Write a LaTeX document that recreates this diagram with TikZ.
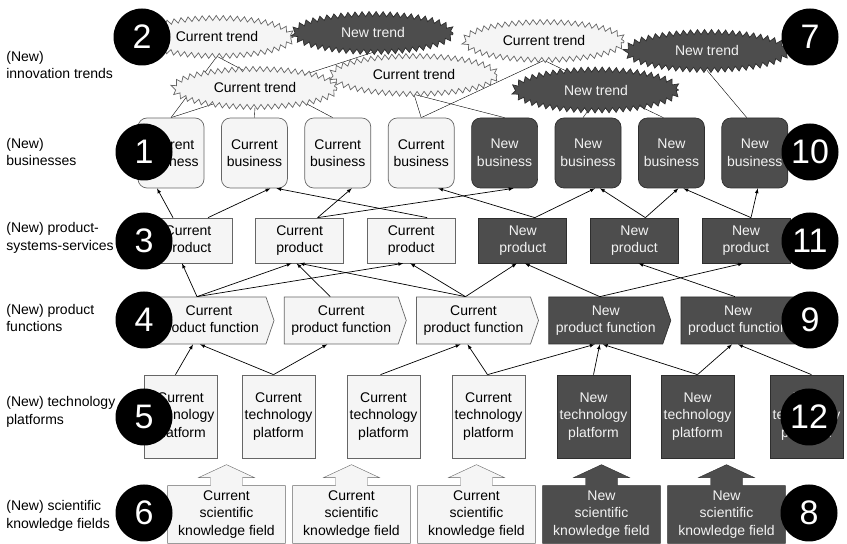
\documentclass[tikz,border=0pt]{standalone}
\usepackage{fontspec}
\setmainfont{Liberation Sans}
\usetikzlibrary{shapes.geometric,shapes.symbols,decorations.pathmorphing,backgrounds}

\definecolor{curfill}{HTML}{F5F5F5}
\definecolor{curline}{HTML}{666666}
\definecolor{newfill}{HTML}{4D4D4D}
\definecolor{newline}{HTML}{2E2E2E}
\definecolor{newtext}{HTML}{F2F2F2}

\tikzset{
	cur/.style={draw=curline, fill=curfill, text=black},
	new/.style={draw=newline, fill=newfill, text=newtext},
	trend/.style={ellipse, minimum width=160pt, minimum height=38pt, inner sep=0pt,
		decorate, decoration={zigzag, segment length=7pt, amplitude=2.5pt}},
	biz/.style={rectangle, rounded corners=9pt, minimum width=66pt, minimum height=70pt, align=center, inner sep=1pt},
	prod/.style={rectangle, minimum width=88pt, minimum height=45pt, align=center, inner sep=1pt},
	func/.style={signal, signal to=east, signal pointer angle=142, minimum width=122pt, minimum height=47pt, align=center, inner sep=1pt},
	plat/.style={rectangle, minimum width=73pt, minimum height=83pt, align=center, inner sep=1pt},
	field/.style={rectangle, minimum width=117pt, minimum height=57pt, align=center, inner sep=1pt},
	rowlabel/.style={anchor=west, align=left, inner sep=0pt},
	numdot/.style={circle, fill=black, text=white, minimum size=57pt, inner sep=0pt, font=\fontsize{34}{34}\selectfont},
	feed/.style={->},
}

\begin{document}
\begin{tikzpicture}[x=1pt, y=1pt, >=latex, line width=0.7pt, font=\fontsize{14}{17.5}\selectfont]

	\useasboundingbox (0,0) rectangle (847,544);

	% === ROW LABELS === (((
	\node [rowlabel] (lab1) at (6,479) {(New)\\innovation trends};
	\node [rowlabel] (lab2) at (6,392) {(New)\\businesses};
	\node [rowlabel] (lab3) at (6,306) {(New) product-\\systems-services};
	\node [rowlabel] (lab4) at (6,226) {(New) product\\functions};
	\node [rowlabel] (lab5) at (6,132) {(New) technology\\platforms};
	\node [rowlabel] (lab6) at (6,28) {(New) scientific\\knowledge fields};
	% )))

	% === BUSINESSES === (((
	\foreach \i in {1,...,4}
		\node [biz,cur] (biz\i) at ({171+83.4*(\i-1)},391) {Current\\business};
	\foreach \i in {5,...,8}
		\node [biz,new] (biz\i) at ({171+83.4*(\i-1)},391) {New\\business};
	% )))

	% === PRODUCTS === (((
	\foreach \i in {1,...,3}
		\node [prod,cur] (prod\i) at ({188+111.6*(\i-1)},303.5) {Current\\product};
	\foreach \i in {4,...,6}
		\node [prod,new] (prod\i) at ({188+111.6*(\i-1)},303.5) {New\\product};
	% )))

	% === FUNCTIONS === (((
	\foreach \i in {1,...,3}
		\node [func,cur] (fn\i) at ({209+132.25*(\i-1)},223.5) {Current\\product function};
	\foreach \i in {4,5}
		\node [func,new] (fn\i) at ({209+132.25*(\i-1)},223.5) {New\\product function};
	% )))

	% === PLATFORMS === (((
	\foreach \i/\x in {1/180.5,2/278.5,3/383.5,4/488.5}
		\node [plat,cur] (plat\i) at (\x,127.5) {Current\\technology\\platform};
	\foreach \i/\x in {5/593.5,6/697.5,7/806.5}
		\node [plat,new] (plat\i) at (\x,127.5) {New\\technology\\platform};
	% )))

	% === KNOWLEDGE FIELDS === (((
	\foreach \i in {1,...,3}
		\node [field,text=black] (kf\i) at ({226.5+125*(\i-1)},29.5) {Current\\scientific\\knowledge field};
	\foreach \i in {4,5}
		\node [field,text=newtext] (kf\i) at ({226.5+125*(\i-1)},29.5) {New\\scientific\\knowledge field};
	\begin{scope}[on background layer]
		\foreach \i/\look in {1/cur,2/cur,3/cur,4/new,5/new}
			\draw [\look] (kf\i.south west) -- (kf\i.north west) -- ([xshift=-16pt]kf\i.north)
			-- ++(0,8) -- ++(-12,0) -- ([yshift=21pt]kf\i.north) -- ([shift={(28pt,8pt)}]kf\i.north)
			-- ++(-12,0) -- ++(0,-8) -- (kf\i.north east) -- (kf\i.south east) -- cycle;
	\end{scope}
	% )))

	% === TRENDS === (((
	\node [trend,cur,minimum width=152pt] (trend1) at (217,507) {Current trend};
	\node [trend,new] (trend2) at (373,511) {New trend};
	\node [trend,cur,minimum width=164pt] (trend3) at (255,456) {Current trend};
	\node [trend,cur,minimum width=166pt] (trend4) at (414,469) {Current trend};
	\node [trend,cur] (trend5) at (544,503) {Current trend};
	\node [trend,new,minimum width=163pt] (trend6) at (707,493) {New trend};
	\node [trend,new,minimum width=165pt,minimum height=41pt] (trend7) at (596,454) {New trend};
	\begin{scope}[on background layer]
		\foreach \a/\sa/\b/\sb in {1/0/1/0, 1/0/3/-5, 2/0/1/0, 3/0/2/0, 4/0/4/0, 4/0/5/0, 5/0/4/0, 5/0/7/-8, 7/-8/6/-5, 6/0/8/-8}
			\draw ([xshift=\sa pt]trend\a.south) -- ([xshift=\sb pt]biz\b.north);
	\end{scope}
	% )))

	% === ARROWS === (((
	\foreach \a/\sa/\b/\sb in {1/-15/1/-14, 1/20/2/16, 3/16/2/22, 2/18/3/14, 2/18/5/9, 4/12/4/17, 4/12/6/7, 5/11/6/12, 5/11/7/7, 6/5/7/12, 6/5/8/3}
		\draw [feed] ([xshift=\sa pt]prod\a.north) -- ([xshift=\sb pt]biz\b.south);
	\foreach \a/\sa/\b/\sb in {1/-12/1/-6, 1/-12/2/-8, 1/-12/3/-8, 2/-11/2/-3, 3/-8/2/0, 3/-8/3/-1, 3/-8/4/-6, 4/-6/4/2, 4/-6/6/-3, 5/-3/5/4}
		\draw [feed] ([xshift=\sa pt]fn\a.north) -- ([xshift=\sb pt]prod\b.south);
	\foreach \a/\sa/\b/\sb in {1/-5/1/-16, 2/-5/1/-9, 2/-5/2/-14, 3/-3/3/-13, 4/-1/3/-6, 4/-1/4/-11, 5/0/4/-6, 6/0/4/-3, 6/0/5/-6, 7/5/5/0}
		\draw [feed] ([xshift=\sa pt]plat\a.north) -- ([xshift=\sb pt]fn\b.south);
	% )))

	% === NUMBERS === (((
	\foreach \n/\x/\y in {2/142/507, 7/810/507, 1/144/392, 10/810/392, 3/144/303, 11/810/303, 4/144/224, 9/810/224, 5/144/127, 12/809/127, 6/144/31, 8/809/31}
		\node [numdot] (no\n) at (\x,\y) {\n};
	% )))

\end{tikzpicture}
\end{document}
